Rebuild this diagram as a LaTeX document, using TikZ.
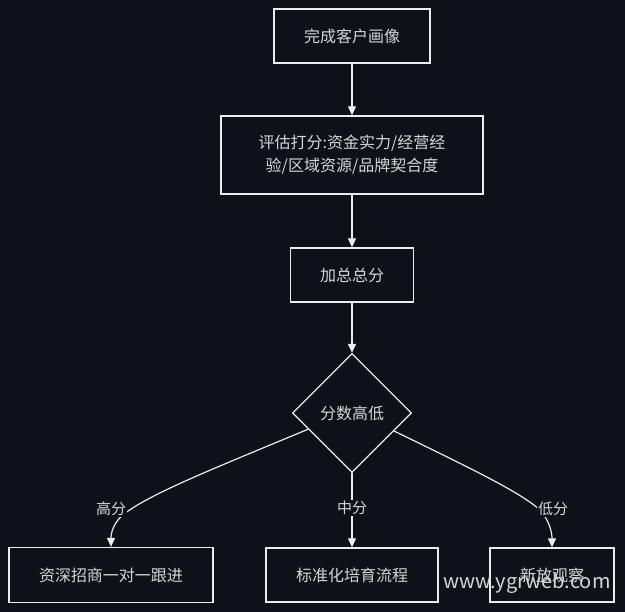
\documentclass[tikz,border=0pt]{standalone}
\usepackage{fontspec}
\setmainfont{Noto Sans CJK SC}
\usetikzlibrary{shapes.geometric,arrows.meta,calc}
\definecolor{bg}{HTML}{0E1117}
\definecolor{ink}{HTML}{EDEDED}
\definecolor{txt}{HTML}{D6D6D6}

\begin{document}
\begin{tikzpicture}[x=1pt, y=-1pt,
    box/.style={rectangle, draw=ink, line width=1.3pt, fill=bg, text=txt, inner sep=0pt, font=\fontsize{16}{23}\selectfont},
    decision/.style={diamond, draw=ink, line width=1.3pt, fill=bg, text=txt, inner sep=0pt, minimum size=119pt, font=\fontsize{16}{23}\selectfont},
    lab/.style={fill=bg, text=txt, inner sep=1pt, font=\fontsize{15}{18}\selectfont},
    >={Triangle[length=9pt, width=8pt]}]
    % 背景
    \fill[bg] (0,0) rectangle (625,612);

    % ノードの定義
    \node[box, minimum width=156pt, minimum height=54pt] (n1) at (352,36) {完成客户画像};
    \node[box, minimum width=262pt, minimum height=78pt, align=center] (n2) at (352,155) {评估打分:资金实力/经营经\\验/区域资源/品牌契合度};
    \node[box, minimum width=123pt, minimum height=54pt] (n3) at (352,275) {加总总分};
    \node[decision] (dia) at (352,413) {分数高低};
    \node[box, minimum width=204pt, minimum height=55pt] (m1) at (111,575) {资深招商一对一跟进};
    \node[box, minimum width=172pt, minimum height=54pt] (m2) at (352,575) {标准化培育流程};
    \node[box, minimum width=124pt, minimum height=54pt] (m3) at (552,575) {新放观察};

    % 分岐の始点
    \coordinate (s1) at ($(dia.west)!0.27!(dia.south)$);
    \coordinate (s3) at ($(dia.east)!0.3!(dia.south)$);

    % エッジの定義
    \draw[ink, line width=1.2pt, ->] (n1) -- (n2);
    \draw[ink, line width=1.2pt, ->] (n2) -- (n3);
    \draw[ink, line width=1.2pt, ->] (n3) -- (dia);
    \draw[ink, line width=1.2pt, ->] (dia) -- (m2);
    \draw[ink, line width=1.2pt, ->] (s1) .. controls (210,470) and (150,494) .. (124,514) .. controls (114,522) and (111,532) .. (m1.north);
    \draw[ink, line width=1.2pt, ->] (s3) .. controls (470,468) and (520,492) .. (540,510) .. controls (549,520) and (552,532) .. (m3.north);

    % ラベル
    \node[lab] (l1) at (111,509) {高分};
    \node[lab] (l2) at (352,508) {中分};
    \node[lab] (l3) at (553,509) {低分};

    % 透かし
    \node[text=txt, anchor=base, inner sep=0pt, font=\fontsize{20}{20}\selectfont] (wm) at (527,589) {www.ygrweb.com};
\end{tikzpicture}
\end{document}
